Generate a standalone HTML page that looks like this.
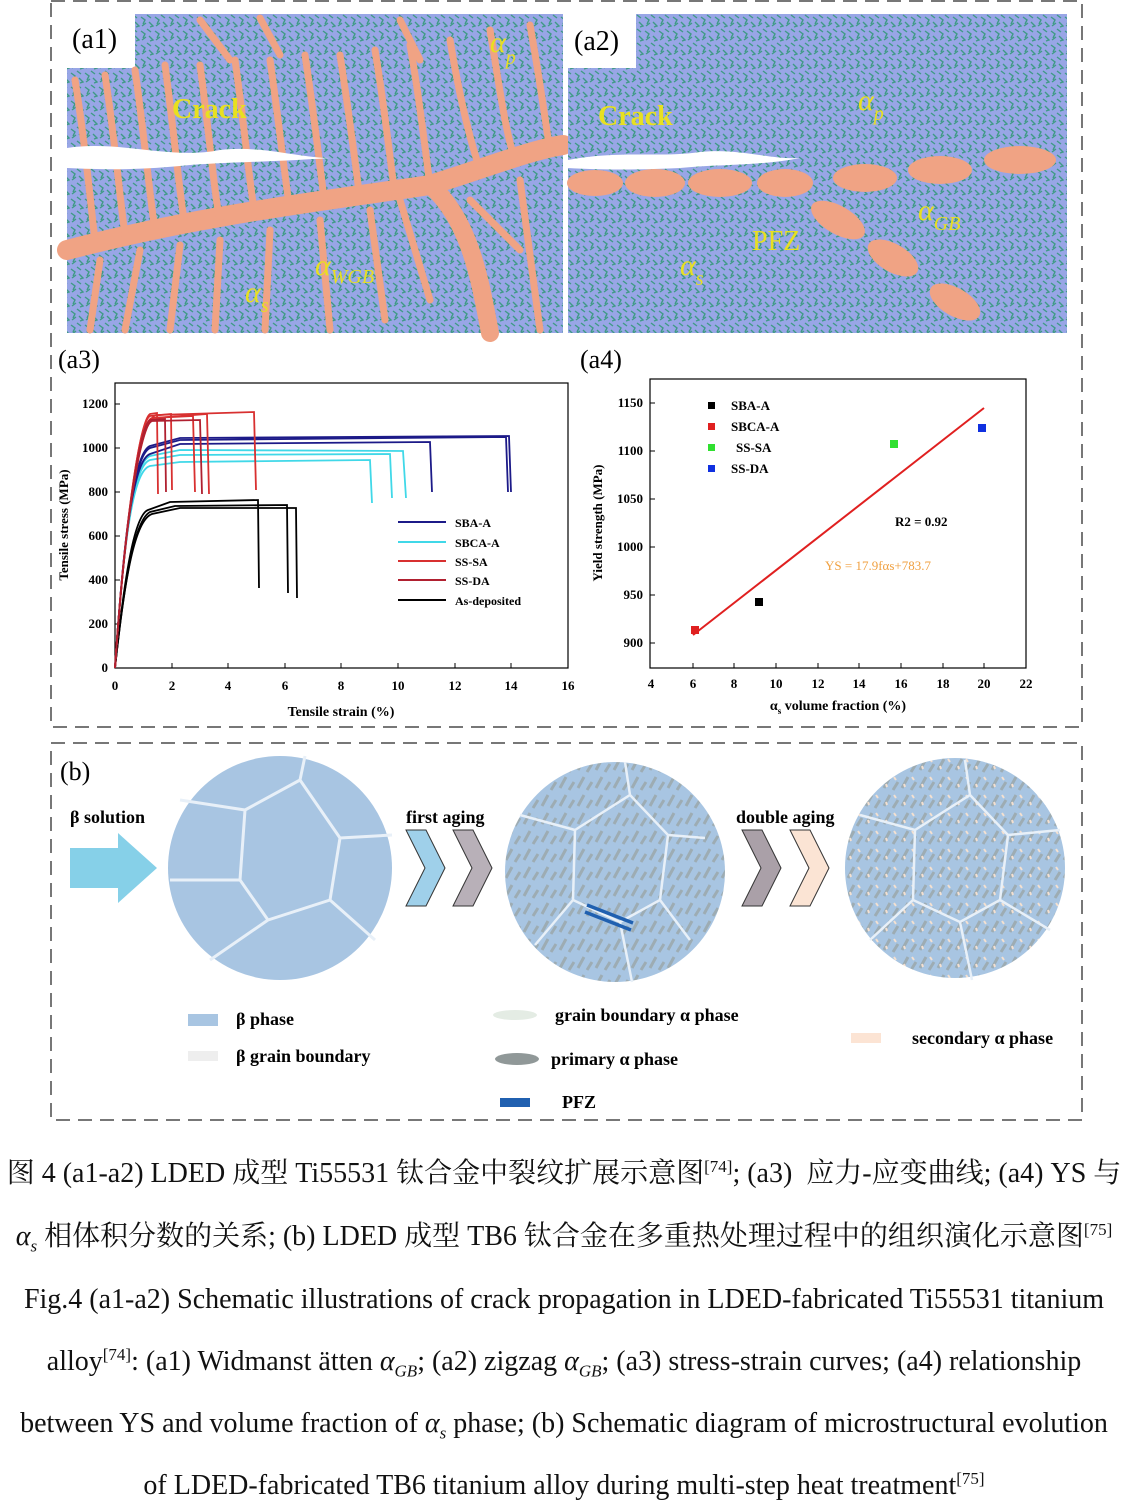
<!DOCTYPE html>
<html><head><meta charset="utf-8"><style>
body{margin:0;background:#fff;width:1128px;height:1508px;position:relative;overflow:hidden;font-family:"Liberation Serif","Noto Serif CJK SC",serif}
.cap{position:absolute;left:0;width:1128px;text-align:center;font-size:28px;line-height:30px;color:#111;white-space:nowrap}
sup{font-size:17px;vertical-align:10px;line-height:0}
sub{font-size:17px;line-height:0}
</style></head><body>
<svg width="1128" height="1140" style="position:absolute;left:0;top:0" font-family="Liberation Serif, serif">
<defs>
<pattern id="tex" width="14" height="14" patternUnits="userSpaceOnUse">
<rect width="14" height="14" fill="#98a6e6"/>
<path d="M1,3 L5,6 L3,10 M7,1 L11,4 M9,8 L13,12 L10,13 M2,12 L6,9" stroke="#3f9a86" stroke-width="1.4" fill="none"/>
</pattern>
<pattern id="dots" width="18" height="18" patternUnits="userSpaceOnUse">
<rect width="18" height="18" fill="#a8c5e2"/>
<path d="M2,14 L8,3 M11,16 L16,8" stroke="#9aa6a8" stroke-width="3" opacity=".8"/>
</pattern>
<pattern id="dots2" width="18" height="18" patternUnits="userSpaceOnUse">
<rect width="18" height="18" fill="#a8c5e2"/>
<path d="M2,14 L8,3 M11,16 L16,8" stroke="#9aa6a8" stroke-width="3" opacity=".8"/>
<path d="M12,3 L14,6 M4,10 L5,13" stroke="#f4e0d0" stroke-width="2"/>
</pattern>
</defs>
<rect x="51" y="1" width="1031" height="726" fill="none" stroke="#777" stroke-width="2" stroke-dasharray="14,8"/>
<!-- a1 -->
<rect x="67" y="14" width="496" height="319" fill="url(#tex)"/>
<rect x="67" y="14" width="68" height="54" fill="#fff"/>
<g stroke="#f0a384" fill="none" stroke-linecap="round">
<path d="M67,250 C200,215 330,200 430,185 C480,170 530,150 563,145" stroke-width="20"/>
<path d="M430,185 C470,220 480,280 490,333" stroke-width="18"/>
<g stroke-width="7">
<path d="M75,80 C85,140 90,200 95,240"/><path d="M105,75 C115,140 120,200 125,235"/><path d="M135,70 C145,140 150,200 155,230"/>
<path d="M165,65 C175,140 180,200 185,225"/><path d="M200,65 C210,140 215,200 220,220"/><path d="M235,60 C245,130 250,190 255,215"/>
<path d="M270,60 C280,130 285,180 290,210"/><path d="M305,55 C315,120 320,170 325,205"/><path d="M340,55 C350,120 355,160 360,200"/>
<path d="M375,50 C385,110 390,160 395,195"/><path d="M410,45 C420,100 425,150 430,185"/><path d="M450,40 C460,100 470,140 480,170"/>
<path d="M490,30 C500,90 505,130 515,160"/><path d="M530,25 C540,80 545,120 550,150"/>
<path d="M100,260 L90,330"/><path d="M140,250 L125,330"/><path d="M180,245 L170,330"/><path d="M220,240 L215,330"/><path d="M270,230 L265,330"/>
<path d="M320,220 L330,330"/><path d="M370,210 L385,320"/><path d="M400,200 L430,300"/><path d="M520,180 L540,330"/><path d="M470,200 L520,250"/>
<path d="M200,20 L230,60"/><path d="M260,18 L280,55"/><path d="M400,20 L420,60"/>
</g></g>
<path d="M67,148 C120,140 170,160 220,150 C260,145 300,158 330,158 C270,162 230,162 190,165 C140,170 110,170 67,168 Z" fill="#fff"/>
<text x="72" y="48" font-size="28">(a1)</text>
<text x="172" y="118" font-size="28" fill="#e8e020" font-weight="bold">Crack</text>
<text x="490" y="52" font-size="30" fill="#e8e020" font-style="italic">α<tspan font-size="20" dy="12">p</tspan></text>
<text x="315" y="275" font-size="30" fill="#e8e020" font-style="italic">α<tspan font-size="20" dy="8">WGB</tspan></text>
<text x="245" y="302" font-size="30" fill="#e8e020" font-style="italic">α<tspan font-size="20" dy="10">s</tspan></text>
<!-- a2 -->
<rect x="568" y="14" width="499" height="319" fill="url(#tex)"/>
<rect x="568" y="14" width="68" height="54" fill="#fff"/>
<g fill="#f0a384">
<ellipse cx="595" cy="183" rx="28" ry="13"/><ellipse cx="655" cy="183" rx="30" ry="14"/><ellipse cx="720" cy="183" rx="32" ry="14"/>
<ellipse cx="785" cy="183" rx="28" ry="14"/><ellipse cx="865" cy="178" rx="32" ry="14"/><ellipse cx="940" cy="170" rx="32" ry="14"/>
<ellipse cx="1020" cy="160" rx="36" ry="14"/><ellipse cx="838" cy="220" rx="30" ry="14" transform="rotate(30 838 220)"/>
<ellipse cx="893" cy="258" rx="28" ry="14" transform="rotate(30 893 258)"/><ellipse cx="955" cy="302" rx="28" ry="14" transform="rotate(30 955 302)"/>
</g>
<path d="M568,160 C620,150 660,158 700,152 C740,148 770,160 800,158 C760,166 720,164 680,168 C640,170 600,170 568,168 Z" fill="#fff"/>
<text x="574" y="50" font-size="28">(a2)</text>
<text x="598" y="125" font-size="28" fill="#e8e020" font-weight="bold">Crack</text>
<text x="858" y="110" font-size="30" fill="#e8e020" font-style="italic">α<tspan font-size="20" dy="10">p</tspan></text>
<text x="918" y="220" font-size="30" fill="#e8e020" font-style="italic">α<tspan font-size="20" dy="10">GB</tspan></text>
<text x="752" y="250" font-size="28" fill="#e8e020">PFZ</text>
<text x="680" y="275" font-size="30" fill="#e8e020" font-style="italic">α<tspan font-size="20" dy="10">s</tspan></text>
<!-- a3 -->
<text x="58" y="368" font-size="26">(a3)</text>
<rect x="115" y="383" width="453" height="285" fill="none" stroke="#000" stroke-width="1.2"/>
<g font-size="13" font-weight="bold" text-anchor="middle">
<text x="115" y="690">0</text><text x="172" y="690">2</text><text x="228" y="690">4</text><text x="285" y="690">6</text><text x="341" y="690">8</text>
<text x="398" y="690">10</text><text x="455" y="690">12</text><text x="511" y="690">14</text><text x="568" y="690">16</text>
<text x="341" y="716" font-size="14">Tensile strain (%)</text>
</g>
<g font-size="13" font-weight="bold" text-anchor="end">
<text x="108" y="672">0</text><text x="108" y="628">200</text><text x="108" y="584">400</text><text x="108" y="540">600</text>
<text x="108" y="496">800</text><text x="108" y="452">1000</text><text x="108" y="408">1200</text>
</g>
<g stroke="#000"><path d="M115,668h5M115,624h5M115,580h5M115,536h5M115,492h5M115,448h5M115,404h5M172,668v-5M228,668v-5M285,668v-5M341,668v-5M398,668v-5M455,668v-5M511,668v-5"/></g>
<text transform="translate(68,525) rotate(-90)" font-size="13" font-weight="bold" text-anchor="middle">Tensile stress (MPa)</text>
<g fill="none" stroke-width="1.8">
<g stroke="#000"><path d="M115,668 C125,570 135,515 148,510 L170,502 L258,500 L259,588"/><path d="M115,668 C125,575 135,520 150,512 L175,506 L287,505 L288,593"/><path d="M115,668 C125,575 135,520 152,514 L180,508 L296,508 L297,598"/></g>
<g stroke="#40d8e8"><path d="M115,668 C125,520 135,470 150,466 L180,462 L370,460 L372,503"/><path d="M115,668 C125,520 135,465 150,460 L180,455 L390,454 L392,498"/><path d="M115,668 C125,520 135,462 150,456 L180,450 L403,451 L406,498"/></g>
<g stroke="#1c1a88"><path d="M115,668 C125,520 135,460 150,454 L180,444 L430,442 L432,492"/><path d="M115,668 C125,520 135,455 150,448 L180,440 L506,437 L508,492"/><path d="M115,668 C125,520 135,452 150,446 L180,438 L509,436 L511,492"/></g>
<g stroke="#d83030"><path d="M115,668 C125,520 140,420 150,414 L157,413 L158,494"/><path d="M115,668 C125,520 140,420 150,416 L171,414 L172,490"/><path d="M115,668 C125,520 140,420 152,418 L193,416 L195,492"/><path d="M115,668 C125,520 140,420 154,418 L207,414 L209,494"/><path d="M115,668 C125,520 140,420 156,415 L254,412 L256,490"/></g>
<g stroke="#b02030"><path d="M115,668 C125,520 140,425 150,420 L165,419 L166,492"/><path d="M115,668 C125,520 140,425 152,421 L200,420 L202,494"/></g>
</g>
<g font-size="12" font-weight="bold">
<line x1="398" y1="522" x2="446" y2="522" stroke="#1c1a88" stroke-width="2"/><text x="455" y="527">SBA-A</text>
<line x1="398" y1="542" x2="446" y2="542" stroke="#40d8e8" stroke-width="2"/><text x="455" y="547">SBCA-A</text>
<line x1="398" y1="561" x2="446" y2="561" stroke="#d83030" stroke-width="2"/><text x="455" y="566">SS-SA</text>
<line x1="398" y1="580" x2="446" y2="580" stroke="#b02030" stroke-width="2"/><text x="455" y="585">SS-DA</text>
<line x1="398" y1="600" x2="446" y2="600" stroke="#000" stroke-width="2"/><text x="455" y="605">As-deposited</text>
</g>
<!-- a4 -->
<text x="580" y="368" font-size="26">(a4)</text>
<rect x="650" y="379" width="376" height="289" fill="none" stroke="#000" stroke-width="1.2"/>
<g font-size="13" font-weight="bold" text-anchor="middle">
<text x="651" y="688">4</text><text x="693" y="688">6</text><text x="734" y="688">8</text><text x="776" y="688">10</text><text x="818" y="688">12</text>
<text x="859" y="688">14</text><text x="901" y="688">16</text><text x="943" y="688">18</text><text x="984" y="688">20</text><text x="1026" y="688">22</text>
<text x="838" y="710" font-size="14">α<tspan font-size="9" dy="4">s</tspan><tspan dy="-4"> volume fraction (%)</tspan></text>
</g>
<g font-size="13" font-weight="bold" text-anchor="end">
<text x="643" y="647">900</text><text x="643" y="599">950</text><text x="643" y="551">1000</text><text x="643" y="503">1050</text><text x="643" y="455">1100</text><text x="643" y="407">1150</text>
</g>
<g stroke="#000"><path d="M650,643h5M650,595h5M650,547h5M650,499h5M650,451h5M650,403h5M693,668v-5M734,668v-5M776,668v-5M818,668v-5M859,668v-5M901,668v-5M943,668v-5M984,668v-5"/></g>
<text transform="translate(602,523) rotate(-90)" font-size="13" font-weight="bold" text-anchor="middle">Yield strength (MPa)</text>
<line x1="693" y1="635" x2="984" y2="408" stroke="#e02020" stroke-width="2"/>
<rect x="755" y="598" width="8" height="8" fill="#000"/><rect x="691" y="626" width="8" height="8" fill="#e02020"/>
<rect x="890" y="440" width="8" height="8" fill="#30e030"/><rect x="978" y="424" width="8" height="8" fill="#1030e0"/>
<g font-size="13" font-weight="bold">
<rect x="708" y="402" width="7" height="7" fill="#000"/><text x="731" y="410">SBA-A</text>
<rect x="708" y="423" width="7" height="7" fill="#e02020"/><text x="731" y="431">SBCA-A</text>
<rect x="708" y="444" width="7" height="7" fill="#30e030"/><text x="736" y="452">SS-SA</text>
<rect x="708" y="465" width="7" height="7" fill="#1030e0"/><text x="731" y="473">SS-DA</text>
<text x="895" y="526">R2 = 0.92</text>
<text x="825" y="570" fill="#f0a040" font-weight="normal">YS = 17.9fαs+783.7</text>
</g>
<!-- b box -->
<rect x="51" y="743" width="1031" height="377" fill="none" stroke="#777" stroke-width="2" stroke-dasharray="14,8"/>
<text x="60" y="780" font-size="26">(b)</text>
<g font-size="18" font-weight="bold">
<text x="70" y="823">β solution</text><text x="406" y="823">first aging</text><text x="736" y="823">double aging</text>
</g>
<path d="M70,848 H118 V833 L157,868 L118,903 V888 H70 Z" fill="#86d0e8"/>
<circle cx="280" cy="868" r="112" fill="#a8c5e2"/>
<g stroke="#e8f0f8" stroke-width="3" fill="none">
<path d="M245,810 L300,780 L340,838 L330,900 L268,920 L240,880 Z M300,780 L305,756 M245,810 L180,800 M340,838 L392,835 M330,900 L375,940 M268,920 L210,960 M240,880 L170,880"/>
</g>
<path d="M406,830 L426,830 L445,868 L426,906 L406,906 L425,868 Z" fill="#9fd0ea" stroke="#333"/>
<path d="M453,830 L473,830 L492,868 L473,906 L453,906 L472,868 Z" fill="#b8b0b8" stroke="#333"/>
<circle cx="615" cy="872" r="110" fill="url(#dots)"/>
<g stroke="#e8f0f8" stroke-width="2.5" fill="none">
<path d="M575,830 L630,795 L668,835 L660,900 L620,922 L573,900 Z M630,795 L625,762 M575,830 L520,815 M668,835 L705,838 M660,900 L690,940 M620,922 L632,982 M573,900 L535,945"/>
</g>
<path d="M587,905 L633,923 M585,912 L631,930" stroke="#2060b0" stroke-width="3.5"/>
<path d="M742,830 L762,830 L781,868 L762,906 L742,906 L761,868 Z" fill="#aaa0a8" stroke="#333"/>
<path d="M790,830 L810,830 L829,868 L810,906 L790,906 L809,868 Z" fill="#fbe4d4" stroke="#333"/>
<circle cx="955" cy="868" r="110" fill="url(#dots2)"/>
<g stroke="#e8f0f8" stroke-width="2.5" fill="none">
<path d="M915,830 L970,795 L1008,835 L1000,900 L960,922 L913,900 Z M970,795 L965,760 M915,830 L860,815 M1008,835 L1060,830 M1000,900 L1050,930 M960,922 L972,980 M913,900 L870,940"/>
</g>
<g font-size="18" font-weight="bold">
<rect x="188" y="1014" width="30" height="12" fill="#a8c5e2"/><text x="236" y="1025">β phase</text>
<rect x="188" y="1051" width="30" height="10" fill="#eeeeee"/><text x="236" y="1062">β grain boundary</text>
<ellipse cx="515" cy="1015" rx="22" ry="5" fill="#e4ece4"/><text x="555" y="1021">grain boundary α phase</text>
<ellipse cx="517" cy="1059" rx="22" ry="6" fill="#909898"/><text x="551" y="1065">primary α phase</text>
<rect x="500" y="1098" width="30" height="9" fill="#2060b0"/><text x="562" y="1108">PFZ</text>
<rect x="851" y="1033" width="30" height="10" fill="#fce4d4"/><text x="912" y="1044">secondary α phase</text>
</g>
</svg>
<div class="cap" style="top:1159px">图 4 (a1-a2) LDED 成型 Ti55531 钛合金中裂纹扩展示意图<sup>[74]</sup>; (a3)&nbsp; 应力-应变曲线; (a4) YS 与</div>
<div class="cap" style="top:1222px"><i>α<sub>s</sub></i> 相体积分数的关系; (b) LDED 成型 TB6 钛合金在多重热处理过程中的组织演化示意图<sup>[75]</sup></div>
<div class="cap" style="top:1285px">Fig.4 (a1-a2) Schematic illustrations of crack propagation in LDED-fabricated Ti55531 titanium</div>
<div class="cap" style="top:1347px">alloy<sup>[74]</sup>: (a1) Widmanst ätten <i>α<sub>GB</sub></i>; (a2) zigzag <i>α<sub>GB</sub></i>; (a3) stress-strain curves; (a4) relationship</div>
<div class="cap" style="top:1409px">between YS and volume fraction of <i>α<sub>s</sub></i> phase; (b) Schematic diagram of microstructural evolution</div>
<div class="cap" style="top:1471px">of LDED-fabricated TB6 titanium alloy during multi-step heat treatment<sup>[75]</sup></div>
</body></html>
